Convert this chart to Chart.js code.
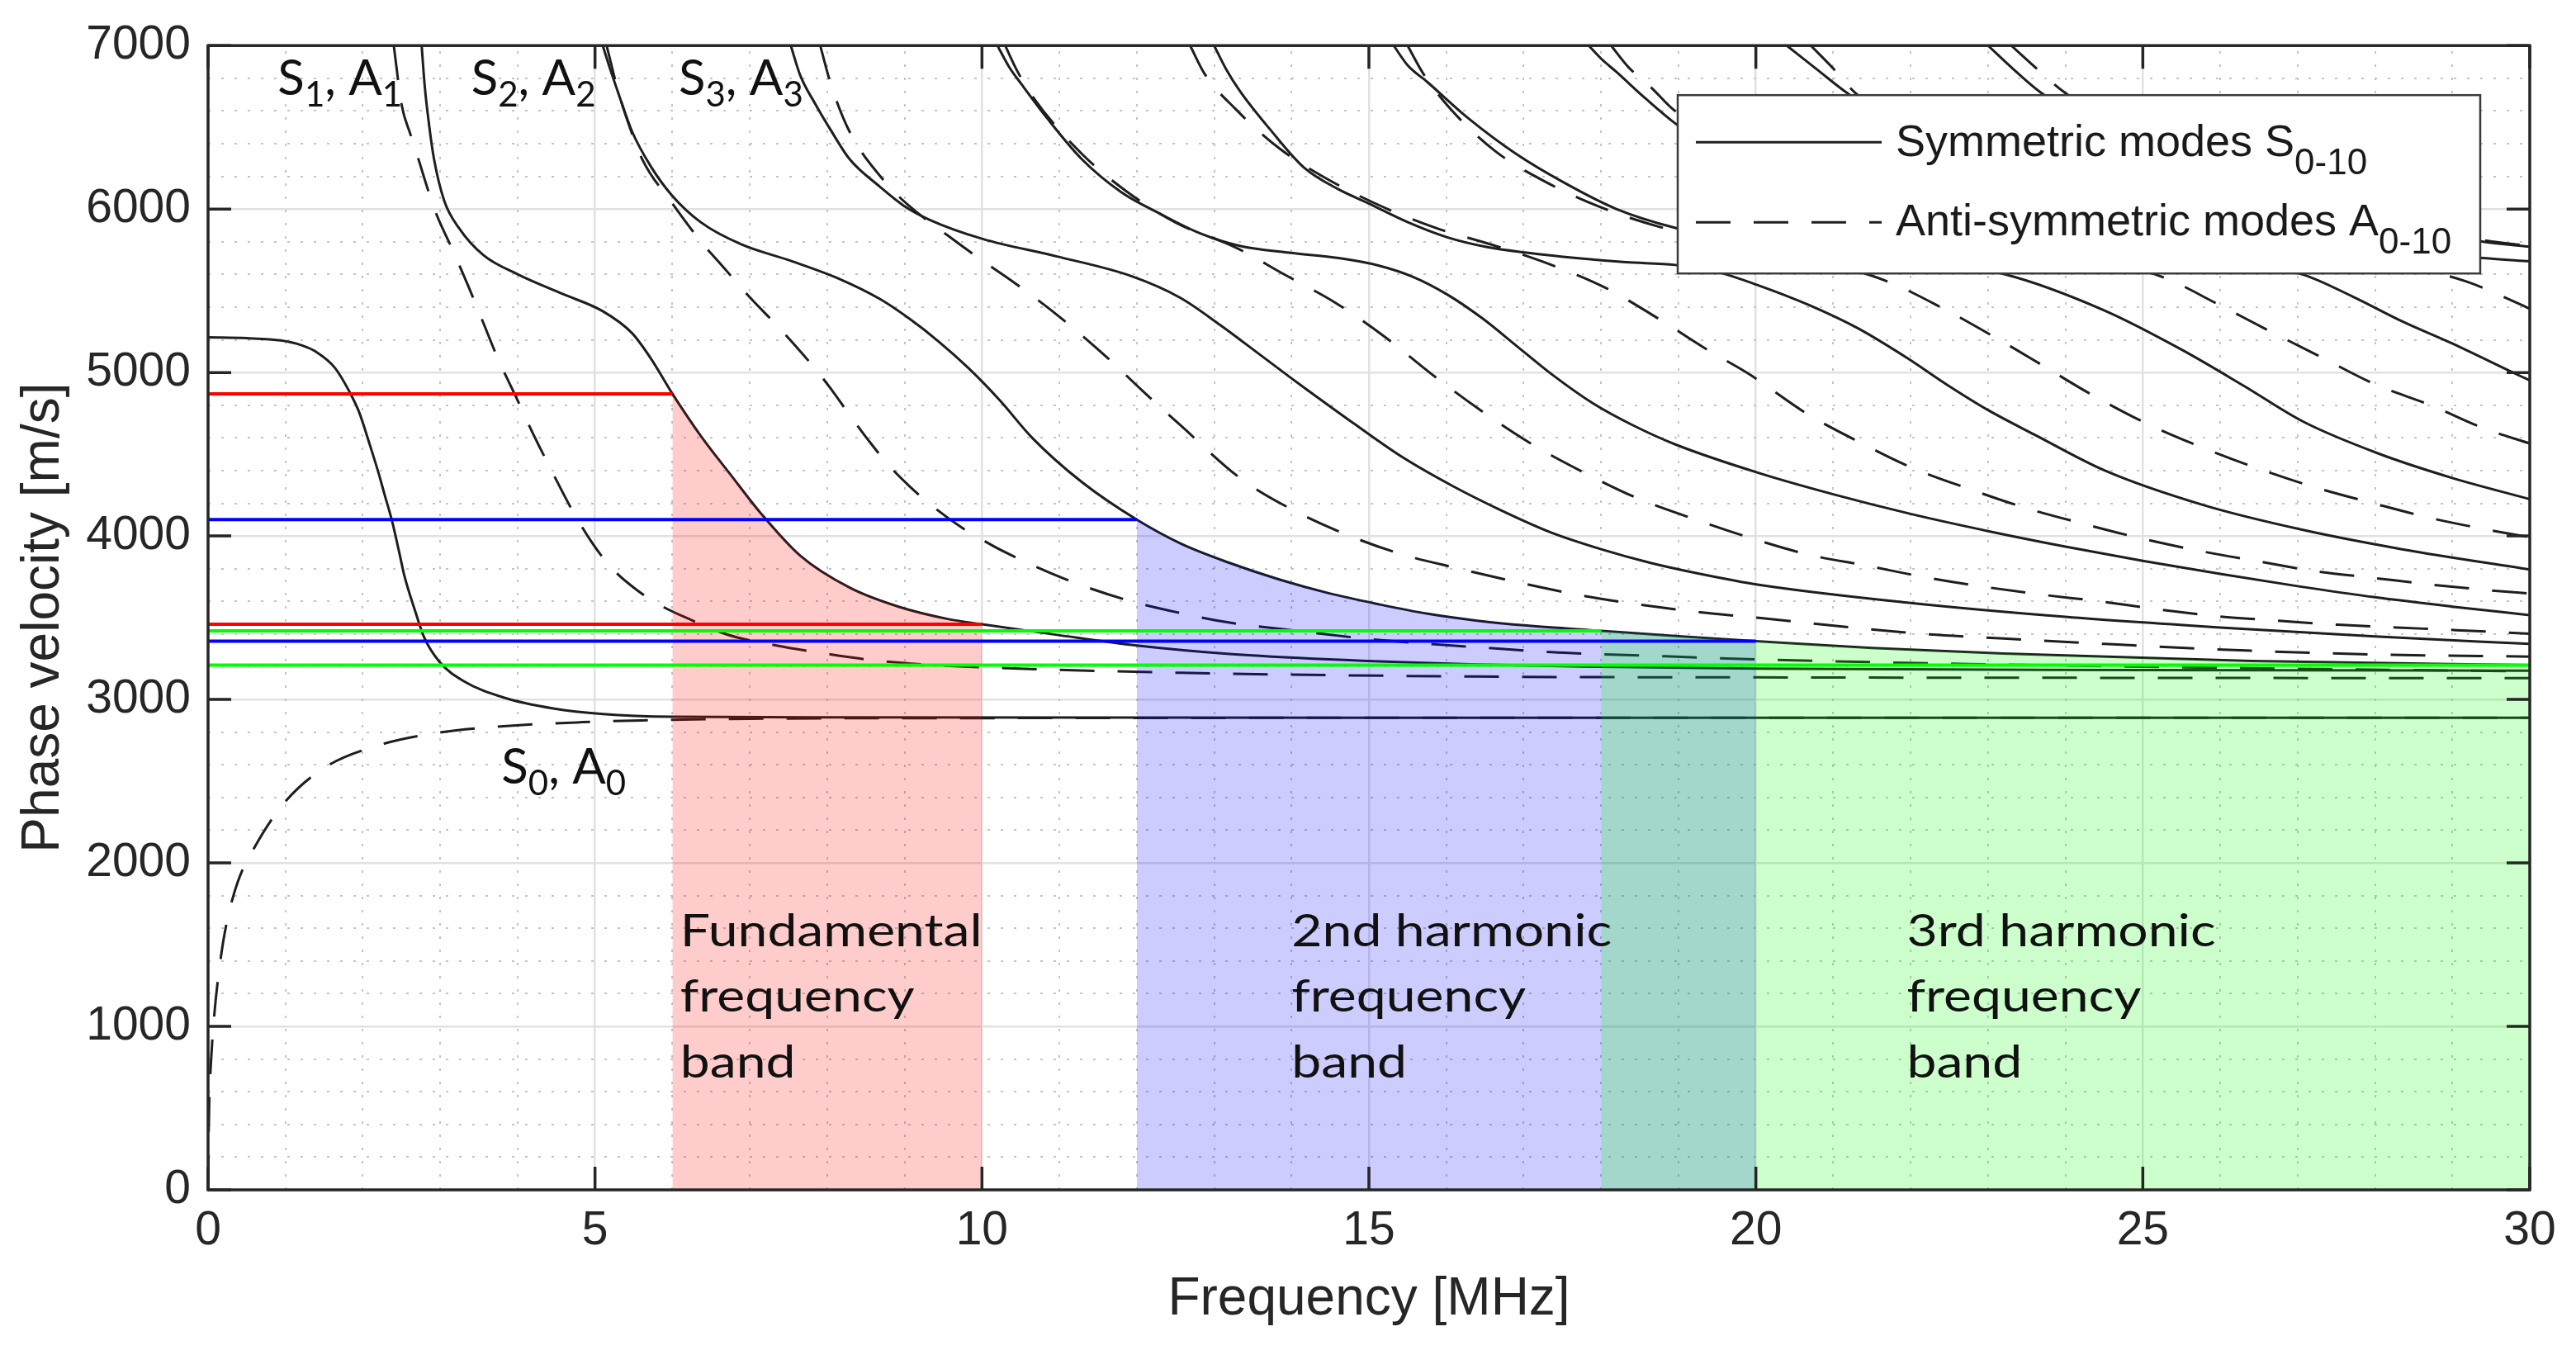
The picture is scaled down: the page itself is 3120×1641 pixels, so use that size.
<!DOCTYPE html>
<html>
<head>
<meta charset="utf-8">
<script src="https://cdn.jsdelivr.net/npm/chart.js@4.4.1/dist/chart.umd.min.js"></script>
<style>
  html, body { margin: 0; padding: 0; background: #fff; }
  #wrap { width: 3120px; height: 1641px; }
</style>
</head>
<body>
<div id="wrap"><canvas id="dispersion"></canvas></div>
<script>
'use strict';

// Lamb wave dispersion curves
// frequency in MHz, phase velocity in m/s

var s0Freq = [0, 0.5, 0.94, 1.2, 1.39, 1.64, 1.83, 1.95, 2.09, 2.2, 2.28, 2.38, 2.47, 2.54, 2.67, 2.79, 2.99, 3.3, 3.82, 4.46, 5.1, 6, 8, 12, 20, 30];
var s0Vel = [5215, 5210, 5196, 5168, 5128, 5028, 4880, 4760, 4558, 4390, 4255, 4087, 3900, 3751, 3550, 3382, 3230, 3113, 3012, 2945, 2911, 2894, 2890, 2889, 2888, 2888];

var a0Freq = [0, 0.005, 0.015, 0.04, 0.08, 0.15, 0.23, 0.38, 0.6, 0.98, 1.5, 2.18, 3.0, 3.94, 4.84, 5.61, 7, 10, 20, 30];
var a0Vel = [0, 250, 527, 800, 1068, 1370, 1608, 1879, 2095, 2365, 2581, 2716, 2798, 2840, 2861, 2872, 2882, 2886, 2888, 2888];

var s1Freq = [2.76, 2.8, 2.86, 2.92, 3.05, 3.24, 3.56, 4.01, 4.58, 5.1, 5.48, 5.73, 6, 6.37, 6.76, 7.14, 7.65, 8.29, 8.93, 9.57, 10, 10.97, 12, 13.2, 14.48, 16.4, 18, 20, 25, 30];
var s1Vel = [7000, 6750, 6500, 6305, 6053, 5885, 5717, 5599, 5481, 5375, 5240, 5080, 4870, 4610, 4370, 4140, 3880, 3684, 3566, 3491, 3460, 3395, 3330, 3278, 3245, 3214, 3200, 3188, 3180, 3176];

var a1Freq = [2.4, 2.5, 2.62, 2.73, 2.84, 2.95, 3.15, 3.37, 3.56, 3.75, 3.97, 4.2, 4.46, 4.71, 4.97, 5.22, 5.54, 5.86, 6.25, 6.7, 7.33, 7.97, 8.61, 9.25, 10, 12.57, 16.4, 20, 25, 30];
var a1Vel = [7000, 6640, 6450, 6288, 6120, 5969, 5760, 5520, 5300, 5080, 4860, 4625, 4380, 4154, 3953, 3802, 3670, 3572, 3485, 3398, 3331, 3281, 3239, 3214, 3197, 3163, 3140, 3135, 3132, 3130];

var s2Freq = [5.1, 5.2, 5.29, 5.48, 5.73, 5.99, 6.37, 6.89, 7.53, 8.17, 8.68, 9.06, 9.44, 9.83, 10.23, 10.65, 11.29, 12, 12.57, 13.2, 13.84, 14.48, 15.12, 15.76, 16.4, 17.04, 18, 18.96, 20, 21.5, 23.2, 26.4, 30];
var s2Vel = [7000, 6850, 6725, 6473, 6254, 6086, 5918, 5784, 5683, 5570, 5450, 5330, 5190, 5025, 4830, 4600, 4330, 4100, 3953, 3835, 3734, 3650, 3583, 3524, 3482, 3452, 3420, 3388, 3357, 3315, 3281, 3235, 3210];

var a2Freq = [5.15, 5.3, 5.42, 5.61, 5.99, 6.37, 6.63, 7.0, 7.4, 7.85, 8.04, 8.29, 8.55, 8.8, 9.06, 9.38, 9.76, 10.01, 10.26, 11.09, 11.86, 12.57, 13.2, 14.16, 14.93, 15.76, 16.53, 17.36, 18, 18.83, 20, 25, 30];
var a2Vel = [7000, 6720, 6540, 6305, 6040, 5800, 5660, 5460, 5263, 5020, 4905, 4740, 4575, 4430, 4306, 4175, 4045, 3975, 3910, 3734, 3610, 3528, 3470, 3415, 3373, 3340, 3315, 3289, 3277, 3264, 3245, 3200, 3172];

var s3Freq = [7.53, 7.65, 7.85, 8.05, 8.29, 8.68, 8.99, 9.32, 10.01, 10.97, 11.93, 12.56, 13.08, 13.59, 13.97, 14.2, 14.8, 15.44, 16.08, 16.72, 17.36, 18, 18.64, 19.28, 20.04, 22, 24, 26, 28, 30];
var s3Vel = [7000, 6820, 6640, 6480, 6305, 6137, 6020, 5935, 5817, 5710, 5590, 5458, 5290, 5110, 4975, 4895, 4690, 4480, 4306, 4154, 4020, 3919, 3835, 3768, 3701, 3590, 3505, 3440, 3385, 3340];

var a3Freq = [7.91, 8.05, 8.29, 8.74, 9.06, 9.57, 10.01, 10.42, 11.03, 11.61, 12.07, 12.57, 13.33, 13.97, 14.74, 15.44, 16.15, 16.91, 17.68, 18.45, 19.28, 20.04, 21.47, 22.24, 23.2, 24.5, 26.4, 28, 30];
var a3Vel = [7000, 6760, 6473, 6170, 6019, 5834, 5683, 5549, 5330, 5095, 4890, 4675, 4356, 4171, 4003, 3886, 3802, 3718, 3642, 3583, 3533, 3499, 3429, 3398, 3373, 3340, 3298, 3275, 3262];

var s4Freq = [10.2, 10.35, 10.52, 10.84, 11.29, 11.8, 12.31, 12.82, 13.33, 13.97, 14.61, 15.12, 15.57, 16.02, 16.47, 16.91, 17.36, 17.9, 18.4, 18.96, 20.04, 21, 22, 23, 24, 25, 26, 27, 28, 29, 30];
var s4Vel = [7000, 6870, 6758, 6557, 6305, 6103, 5969, 5851, 5775, 5733, 5700, 5655, 5585, 5475, 5330, 5162, 4990, 4810, 4680, 4560, 4385, 4255, 4135, 4030, 3935, 3848, 3768, 3693, 3625, 3568, 3516];

var a4Freq = [10.3, 10.45, 10.65, 11.29, 11.86, 12.5, 13.27, 13.91, 14.58, 15.22, 15.8, 16.43, 17.09, 17.75, 18.45, 19.17, 19.85, 20.68, 21.44, 22.15, 22.91, 23.68, 24.45, 25.22, 25.98, 26.75, 27.52, 28.29, 29.05, 30];
var a4Vel = [7000, 6850, 6691, 6338, 6111, 5918, 5767, 5599, 5423, 5213, 4994, 4773, 4566, 4395, 4235, 4109, 4000, 3886, 3818, 3751, 3692, 3642, 3600, 3550, 3508, 3482, 3457, 3440, 3424, 3402];

var s5Freq = [13.0, 13.15, 13.33, 13.72, 14.16, 14.61, 14.99, 15.51, 16.02, 16.53, 17.04, 17.68, 18.32, 18.96, 19.5, 20.04, 20.68, 21.32, 21.95, 22.47, 23.0, 23.6, 24.51, 25.79, 27.07, 28.35, 30];
var s5Vel = [7000, 6860, 6724, 6489, 6254, 6120, 6036, 5918, 5826, 5767, 5733, 5700, 5675, 5658, 5615, 5532, 5414, 5270, 5090, 4925, 4770, 4620, 4400, 4188, 4037, 3919, 3795];

var a5Freq = [12.69, 12.88, 13.27, 13.84, 14.48, 15.19, 15.86, 16.6, 17.36, 18.07, 18.74, 19.38, 19.9, 20.68, 21.35, 22.03, 22.75, 23.49, 24.23, 24.97, 25.71, 26.5, 27.22, 27.99, 28.76, 29.5, 30];
var a5Vel = [7000, 6825, 6615, 6372, 6179, 6011, 5885, 5780, 5658, 5515, 5330, 5137, 4994, 4742, 4571, 4415, 4289, 4171, 4075, 3986, 3911, 3844, 3785, 3743, 3701, 3667, 3648];

var s6Freq = [15.32, 15.5, 15.76, 16.28, 16.9, 17.55, 18.19, 18.96, 20, 21, 22, 23.23, 24.5, 25.5, 26.3, 27.07, 28.03, 28.99, 30];
var s6Vel = [7000, 6880, 6775, 6557, 6338, 6154, 6002, 5885, 5790, 5740, 5690, 5599, 5380, 5140, 4920, 4700, 4507, 4356, 4225];

var a6Freq = [15.5, 15.7, 16.05, 16.63, 17.3, 18.0, 18.74, 20, 21, 21.7, 22.4, 23.04, 23.7, 24.3, 25.07, 25.77, 26.5, 27.23, 27.97, 28.7, 29.47, 30];
var a6Vel = [7000, 6830, 6615, 6355, 6162, 6010, 5893, 5760, 5660, 5557, 5397, 5229, 5045, 4875, 4683, 4541, 4411, 4297, 4201, 4112, 4037, 3992];

var s7Freq = [17.84, 18.0, 18.19, 18.58, 18.96, 20, 21, 22, 23.5, 25, 26, 27.07, 27.71, 28.35, 28.99, 29.88, 30];
var s7Vel = [7000, 6920, 6842, 6674, 6523, 6200, 6000, 5870, 5780, 5730, 5690, 5599, 5465, 5313, 5179, 4978, 4952];

var a7Freq = [18.13, 18.35, 18.67, 18.93, 20, 21.5, 23, 24.5, 25.31, 25.95, 26.6, 27.3, 28.0, 28.73, 29.41, 30];
var a7Vel = [7000, 6870, 6733, 6610, 6300, 6000, 5830, 5690, 5574, 5423, 5263, 5095, 4928, 4798, 4658, 4566];

var s8Freq = [20.4, 20.8, 21.17, 22, 23, 24.5, 26, 28, 29.4, 30];
var s8Vel = [7000, 6850, 6713, 6450, 6200, 6000, 5880, 5760, 5700, 5680];

var a8Freq = [20.71, 21.0, 21.28, 22.5, 24, 25.5, 27, 28.5, 29.18, 29.89, 30];
var a8Vel = [7000, 6860, 6713, 6350, 6080, 5900, 5780, 5640, 5557, 5414, 5390];

var s9Freq = [23.0, 23.34, 23.68, 24.5, 25.5, 27, 28.5, 29.4, 30];
var s9Vel = [7000, 6850, 6713, 6480, 6250, 6030, 5880, 5800, 5770];

var a9Freq = [23.3, 23.65, 23.99, 25, 26.5, 28, 29.4, 30];
var a9Vel = [7000, 6850, 6713, 6420, 6160, 5960, 5810, 5775];

var symmetricModes = [
    [s0Freq, s0Vel], [s1Freq, s1Vel], [s2Freq, s2Vel], [s3Freq, s3Vel], [s4Freq, s4Vel],
    [s5Freq, s5Vel], [s6Freq, s6Vel], [s7Freq, s7Vel], [s8Freq, s8Vel], [s9Freq, s9Vel]
];
var antiSymmetricModes = [
    [a0Freq, a0Vel], [a1Freq, a1Vel], [a2Freq, a2Vel], [a3Freq, a3Vel], [a4Freq, a4Vel],
    [a5Freq, a5Vel], [a6Freq, a6Vel], [a7Freq, a7Vel], [a8Freq, a8Vel], [a9Freq, a9Vel]
];

// frequency bands, filled under a symmetric mode (index into symmetricModes)
var bandStart = [6, 12, 18];
var bandEnd = [10, 20, 30];
var bandMode = [1, 2, 2];
var bandLines = [
    ['Fundamental', 'frequency', 'band'],
    ['2nd harmonic', 'frequency', 'band'],
    ['3rd harmonic', 'frequency', 'band']
];
var bandLabelFreq = [6.1, 14.0, 21.95];
var bandLabelVel = [1492, 1089, 685];

// mode labels, [text, isSubscript]
var modeLabels = [
    [['S', 0], ['1', 1], [', A', 0], ['1', 1]],
    [['S', 0], ['2', 1], [', A', 0], ['2', 1]],
    [['S', 0], ['3', 1], [', A', 0], ['3', 1]],
    [['S', 0], ['0', 1], [', A', 0], ['0', 1]]
];
var modeLabelFreq = [0.9, 3.4, 6.08, 3.79];
var modeLabelVel = [6698, 6698, 6698, 2487];

var legendText = [
    [['Symmetric modes S', 0], ['0-10', 1]],
    [['Anti-symmetric modes A', 0], ['0-10', 1]]
];

// styles
var AXIS_FONT = "'Liberation Sans', Arial, sans-serif";
var LABEL_FONT = "Lato, 'Open Sans', sans-serif";
var INK = '#262626';
var CURVE = '#1e1e1e';
var DASH = [42, 28];
var BAND_RGB = ['255, 0, 0', '0, 0, 255', '0, 255, 0'];
var BAND_LINE = ['#ff0000', '#0000ff', '#00ff00'];

function toPoints(freq, vel, from, to) {
    var pts = [];
    for (var i = 0; i < freq.length; i++) {
        if (freq[i] >= from && freq[i] <= to) {
            pts.push({ x: freq[i], y: vel[i] });
        }
    }
    return pts;
}

function velocityAt(freq, vel, f) {
    return vel[freq.indexOf(f)];
}

function drawRich(ctx, parts, x, y, size, subSize, drop, family) {
    var cx = x;
    parts.forEach(function (p) {
        ctx.font = (p[1] ? subSize : size) + 'px ' + family;
        ctx.fillText(p[0], cx, p[1] ? y + drop : y);
        cx += ctx.measureText(p[0]).width;
    });
}

var datasets = [];

symmetricModes.forEach(function (m) {
    datasets.push({
        data: toPoints(m[0], m[1], 0, 30),
        borderColor: CURVE,
        borderWidth: 3,
        order: 2
    });
});

antiSymmetricModes.forEach(function (m) {
    datasets.push({
        data: toPoints(m[0], m[1], 0, 30),
        borderColor: CURVE,
        borderWidth: 3,
        borderDash: DASH,
        order: 2
    });
});

bandStart.forEach(function (start, i) {
    var mode = symmetricModes[bandMode[i]];
    var top = velocityAt(mode[0], mode[1], start);
    var bottom = velocityAt(mode[0], mode[1], bandEnd[i]);

    // later bands sit on top of earlier ones
    datasets.push({
        data: toPoints(mode[0], mode[1], start, bandEnd[i]),
        fill: 'origin',
        backgroundColor: 'rgba(' + BAND_RGB[i] + ', 0.2)',
        borderColor: 'rgba(0, 0, 0, 0)',
        borderWidth: 1,
        order: 1.5 - i * 0.1
    });
    datasets.push({
        data: [{ x: 0, y: top }, { x: start, y: top }],
        borderColor: BAND_LINE[i],
        borderWidth: 4,
        cubicInterpolationMode: 'default',
        tension: 0,
        order: 0
    });
    datasets.push({
        data: [{ x: 0, y: bottom }, { x: bandEnd[i], y: bottom }],
        borderColor: BAND_LINE[i],
        borderWidth: 4,
        cubicInterpolationMode: 'default',
        tension: 0,
        order: 0
    });
});

var matlabFrame = {
    id: 'matlabFrame',
    beforeDatasetsDraw: function (chart) {
        var ctx = chart.ctx, a = chart.chartArea;
        var xs = chart.scales.x, ys = chart.scales.y;
        ctx.save();
        ctx.strokeStyle = '#c4c4c4';
        ctx.lineWidth = 2;
        ctx.setLineDash([3, 13]);
        ctx.beginPath();
        for (var f = 1; f < 30; f++) {
            if (f % 5 === 0) continue;
            var px = Math.round(xs.getPixelForValue(f));
            ctx.moveTo(px, a.bottom);
            ctx.lineTo(px, a.top);
        }
        for (var v = 200; v < 7000; v += 200) {
            if (v % 1000 === 0) continue;
            var py = Math.round(ys.getPixelForValue(v));
            ctx.moveTo(a.left, py);
            ctx.lineTo(a.right, py);
        }
        ctx.stroke();
        ctx.restore();
    },
    afterDatasetsDraw: function (chart) {
        var ctx = chart.ctx, a = chart.chartArea;
        var xs = chart.scales.x, ys = chart.scales.y;
        ctx.save();

        // band labels
        ctx.fillStyle = '#111';
        ctx.textBaseline = 'alphabetic';
        ctx.textAlign = 'left';
        ctx.font = '54px ' + LABEL_FONT;
        bandLines.forEach(function (lines, i) {
            var px = xs.getPixelForValue(bandLabelFreq[i]);
            lines.forEach(function (line, j) {
                var py = ys.getPixelForValue(bandLabelVel[j]);
                ctx.save();
                ctx.translate(px, py);
                ctx.scale(1.19, 1);
                ctx.fillText(line, 0, 0);
                ctx.restore();
            });
        });

        // mode labels
        modeLabels.forEach(function (parts, i) {
            drawRich(ctx, parts, xs.getPixelForValue(modeLabelFreq[i]),
                ys.getPixelForValue(modeLabelVel[i]), 60, 42, 14, LABEL_FONT);
        });

        // axes box and inward ticks
        ctx.strokeStyle = INK;
        ctx.lineWidth = 3.5;
        ctx.setLineDash([]);
        ctx.strokeRect(a.left, a.top, a.right - a.left, a.bottom - a.top);
        ctx.beginPath();
        xs.ticks.forEach(function (t) {
            var px = xs.getPixelForValue(t.value);
            ctx.moveTo(px, a.bottom); ctx.lineTo(px, a.bottom - 28);
            ctx.moveTo(px, a.top); ctx.lineTo(px, a.top + 28);
        });
        ys.ticks.forEach(function (t) {
            var py = ys.getPixelForValue(t.value);
            ctx.moveTo(a.left, py); ctx.lineTo(a.left + 28, py);
            ctx.moveTo(a.right, py); ctx.lineTo(a.right - 28, py);
        });
        ctx.stroke();
        ctx.restore();
    },
    afterDraw: function (chart) {
        var ctx = chart.ctx, a = chart.chartArea;
        var left = a.right - 1032, top = a.top + 60;
        var w = 972, h = 216;
        ctx.save();
        ctx.fillStyle = '#fff';
        ctx.fillRect(left, top, w, h);
        ctx.strokeStyle = '#3a3a3a';
        ctx.lineWidth = 2.5;
        ctx.strokeRect(left, top, w, h);

        ctx.strokeStyle = CURVE;
        ctx.lineWidth = 3;
        ctx.beginPath();
        ctx.moveTo(left + 22, top + 57);
        ctx.lineTo(left + 247, top + 57);
        ctx.stroke();
        ctx.setLineDash(DASH);
        ctx.beginPath();
        ctx.moveTo(left + 22, top + 154);
        ctx.lineTo(left + 247, top + 154);
        ctx.stroke();
        ctx.setLineDash([]);

        ctx.fillStyle = '#1a1a1a';
        ctx.textBaseline = 'alphabetic';
        ctx.textAlign = 'left';
        drawRich(ctx, legendText[0], left + 264, top + 74, 54, 44, 22, AXIS_FONT);
        drawRich(ctx, legendText[1], left + 264, top + 170, 54, 44, 22, AXIS_FONT);
        ctx.restore();
    }
};

var tickFont = { family: AXIS_FONT, size: 57 };
var titleFont = { family: AXIS_FONT, size: 64 };

new Chart(document.getElementById('dispersion').getContext('2d'), {
    type: 'line',
    data: { datasets: datasets },
    options: {
        responsive: true,
        maintainAspectRatio: false,
        animation: false,
        devicePixelRatio: 1,
        events: [],
        layout: { padding: { top: 52, right: 56, left: 0, bottom: 0 } },
        elements: {
            point: { radius: 0 },
            line: { cubicInterpolationMode: 'monotone', fill: false, borderCapStyle: 'butt' }
        },
        plugins: {
            legend: { display: false },
            tooltip: { enabled: false }
        },
        scales: {
            x: {
                type: 'linear',
                min: 0,
                max: 30,
                ticks: {
                    stepSize: 5,
                    padding: 16,
                    color: INK,
                    font: tickFont,
                    maxRotation: 0,
                    callback: function (v) { return String(v); }
                },
                grid: { color: '#e1e1e1', lineWidth: 2.5, drawTicks: false },
                border: { display: false },
                title: {
                    display: true,
                    text: 'Frequency [MHz]',
                    color: INK,
                    font: titleFont,
                    padding: { top: 0, bottom: 28 }
                },
                afterFit: function (scale) { scale.height = 200; }
            },
            y: {
                type: 'linear',
                min: 0,
                max: 7000,
                ticks: {
                    stepSize: 1000,
                    padding: 21,
                    color: INK,
                    font: tickFont,
                    callback: function (v) { return String(v); }
                },
                grid: { color: '#e1e1e1', lineWidth: 2.5, drawTicks: false },
                border: { display: false },
                title: {
                    display: true,
                    text: 'Phase velocity [m/s]',
                    color: INK,
                    font: titleFont,
                    padding: { top: 15, bottom: 0 }
                },
                afterFit: function (scale) { scale.width = 252; }
            }
        }
    },
    plugins: [matlabFrame]
});
</script>
</body>
</html>
